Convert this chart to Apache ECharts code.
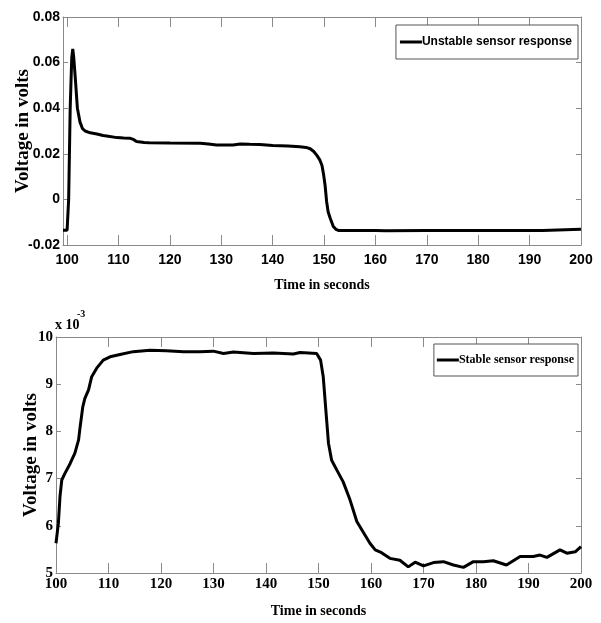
<!DOCTYPE html>
<html>
<head>
<meta charset="utf-8">
<script src="https://cdn.jsdelivr.net/npm/echarts@6/dist/echarts.min.js"></script>
<style>
html,body{margin:0;padding:0;background:#fff;}
#chart{width:601px;height:623px;}
</style>
</head>
<body>
<div id="chart"></div>
<script>
// ---- Data ----
var unstableTime = [99.2,100.0,100.1,100.3,100.6,100.9,101.1,101.3,101.6,102.0,102.5,103.0,103.5,104.5,105.8,107.0,107.7,109.7,111.0,112.3,113.0,113.5,115.0,116.0,120.0,125.9,127.5,129.1,132.3,133.7,135.5,137.5,140.0,143.0,145.3,146.5,147.3,148.0,148.6,149.2,149.6,149.9,150.2,150.5,150.8,151.2,151.8,152.3,152.8,160.0,162.0,170.0,180.0,192.5,192.8,200.0];
var unstableVoltage = [-0.0135,-0.0135,-0.013,0.000,0.040,0.062,0.066,0.062,0.053,0.040,0.034,0.031,0.0300,0.0292,0.0287,0.0280,0.0278,0.0271,0.0269,0.0268,0.0262,0.0254,0.0250,0.0248,0.0247,0.0246,0.0243,0.0239,0.0239,0.0243,0.0242,0.0241,0.0236,0.0234,0.0231,0.0228,0.0222,0.0210,0.0193,0.0172,0.0149,0.011,0.0062,-0.001,-0.0055,-0.0083,-0.0119,-0.0131,-0.0136,-0.0136,-0.0137,-0.0136,-0.0136,-0.0136,-0.0131,-0.0131];

var stableTime = [100,100.45,100.76,101.1,101.7,102.7,103.6,104.3,104.6,105.1,105.5,106.2,106.8,107.75,109,110.3,112.2,114.7,117.9,121,124.3,127.4,129.96,131.9,133.8,137.6,141.4,145.2,146.5,149.65,150.4,150.9,151.4,151.9,152.5,153.5,154.7,156,157.3,158.5,159.8,160.8,162,163.6,165.5,167.1,168.4,170,171.9,173.8,175.7,177.6,179.5,181.4,183.3,185.8,188.4,190.9,192.2,193.5,196,197.3,198.9,200];
var stableVoltage = [0.00563,0.00605,0.00662,0.00697,0.00711,0.00732,0.00754,0.00782,0.00810,0.00852,0.00870,0.00888,0.00916,0.00934,0.00951,0.00958,0.00963,0.00969,0.00972,0.00971,0.00969,0.00969,0.00970,0.00965,0.00968,0.00965,0.00966,0.00964,0.00967,0.00965,0.00951,0.00916,0.00845,0.00775,0.00739,0.00718,0.00693,0.00655,0.00609,0.00587,0.00563,0.00549,0.00543,0.00531,0.00527,0.00513,0.00523,0.00515,0.00522,0.00524,0.00517,0.00512,0.00524,0.00524,0.00526,0.00517,0.00535,0.00535,0.00538,0.00533,0.00549,0.00542,0.00545,0.00556];

var timeTicks = [100,110,120,130,140,150,160,170,180,190,200];
var unstableTicks = [-0.02,0,0.02,0.04,0.06,0.08];
var unstableTickLabels = ['-0.02','0','0.02','0.04','0.06','0.08'];
var stableTicks = [0.005,0.006,0.007,0.008,0.009,0.010];
var stableTickLabels = ['5','6','7','8','9','10'];

var seriesNames = ['Unstable sensor response','Stable sensor response'];

// ---- Build ----
function pairs(xs, ys){ return xs.map(function(x,i){ return [x, ys[i]]; }); }
function labelFor(ticks, labels){ return function(v){ for (var i=0;i<ticks.length;i++){ if (Math.abs(ticks[i]-v)<1e-9) return labels[i]; } return ''; }; }

var axisGray = '#8a8a8a';
var sansN = "'Liberation Sans Narrow','Arial Narrow','Liberation Sans',sans-serif";
var serif = "'Liberation Serif','Times New Roman',serif";

function xAx(grid, pos, min, showLabel, font, size, margin){
  return {
    type:'value', gridIndex:grid, position:pos, min:min, max:200,
    nameMoveOverlap:false,
    axisLine:{show:true, onZero:false, lineStyle:{color:axisGray, width:1}},
    axisTick:{show:true, inside:true, length:10, customValues:timeTicks, lineStyle:{color:axisGray}},
    axisLabel:{show:showLabel, customValues:timeTicks, margin:margin, color:'#000', fontFamily:font, fontWeight:'bold', fontSize:size},
    splitLine:{show:false}
  };
}
function yAx(grid, pos, min, max, ticks, labels, showLabel, font, size){
  return {
    type:'value', gridIndex:grid, position:pos, min:min, max:max,
    nameMoveOverlap:false,
    axisLine:{show:true, onZero:false, lineStyle:{color:axisGray, width:1}},
    axisTick:{show:true, inside:true, length:5, customValues:ticks, lineStyle:{color:axisGray}},
    axisLabel:{show:showLabel, customValues:ticks, margin:3, color:'#000', fontFamily:font, fontWeight:'bold', fontSize:size, formatter:labelFor(ticks, labels)},
    splitLine:{show:false}
  };
}

var xA0 = xAx(0,'bottom',99.2,true,sansN,14,8);
xA0.name = 'Time in seconds'; xA0.nameLocation='middle'; xA0.nameGap=33;
xA0.nameTextStyle = {fontFamily:serif, fontWeight:'bold', fontSize:14, color:'#000'};
var xA1 = xAx(0,'top',99.2,false,sansN,14,8);
var xA2 = xAx(1,'bottom',100,true,serif,15,4);
xA2.name = 'Time in seconds'; xA2.nameLocation='middle'; xA2.nameGap=31;
xA2.nameTextStyle = {fontFamily:serif, fontWeight:'bold', fontSize:14, color:'#000'};
var xA3 = xAx(1,'top',100,false,serif,15,4);

var yA0 = yAx(0,'left',-0.02,0.08,unstableTicks,unstableTickLabels,true,sansN,14);
yA0.name='Voltage in volts'; yA0.nameLocation='middle'; yA0.nameGap=30;
yA0.nameTextStyle={fontFamily:serif, fontWeight:'bold', fontSize:19, color:'#000'};
var yA1 = yAx(0,'right',-0.02,0.08,unstableTicks,unstableTickLabels,false,sansN,14);
var yA2 = yAx(1,'left',0.005,0.010,stableTicks,stableTickLabels,true,serif,15);
yA2.name='Voltage in volts'; yA2.nameLocation='middle'; yA2.nameGap=15;
yA2.nameTextStyle={fontFamily:serif, fontWeight:'bold', fontSize:19, color:'#000'};
var yA3 = yAx(1,'right',0.005,0.010,stableTicks,stableTickLabels,false,serif,15);

var option = {
  backgroundColor:'#fff',
  animation:false,
  grid:[
    {left:63, top:17, right:20, height:228, containLabel:false, outerBoundsMode:'none'},
    {left:56, top:337, right:20, height:236, containLabel:false, outerBoundsMode:'none'}
  ],
  xAxis:[xA0,xA1,xA2,xA3],
  yAxis:[yA0,yA1,yA2,yA3],
  legend:[
    {data:[seriesNames[0]], right:23, top:25, icon:'rect', itemWidth:22, itemHeight:3, itemGap:0,
     padding:[11,6,11,4], borderColor:'#555', borderWidth:1, backgroundColor:'#fff',
     textStyle:{fontFamily:sansN, fontWeight:'bold', fontSize:12, color:'#000', padding:[0,0,0,-5]}},
    {data:[seriesNames[1]], right:23, top:344, icon:'rect', itemWidth:22, itemHeight:3, itemGap:0,
     padding:[10,4,10,3], borderColor:'#555', borderWidth:1, backgroundColor:'#fff',
     textStyle:{fontFamily:serif, fontWeight:'bold', fontSize:12, color:'#000', padding:[0,0,0,-5]}}
  ],
  graphic:[
    {type:'text', left:55, top:318, style:{text:'x 10', font:"bold 14px 'Liberation Serif'", fill:'#000'}},
    {type:'text', left:77, top:309, style:{text:'-3', font:"bold 10px 'Liberation Serif'", fill:'#000'}}
  ],
  series:[
    {name:seriesNames[0], type:'line', xAxisIndex:0, yAxisIndex:0, data:pairs(unstableTime, unstableVoltage),
     showSymbol:false, symbol:'none', lineStyle:{color:'#000', width:3}, itemStyle:{color:'#000'}, clip:true},
    {name:seriesNames[1], type:'line', xAxisIndex:2, yAxisIndex:2, data:pairs(stableTime, stableVoltage),
     showSymbol:false, symbol:'none', lineStyle:{color:'#000', width:3}, itemStyle:{color:'#000'}, clip:true}
  ]
};
var chart = echarts.init(document.getElementById('chart'), null, {renderer:'canvas'});
chart.setOption(option);
</script>
</body>
</html>
